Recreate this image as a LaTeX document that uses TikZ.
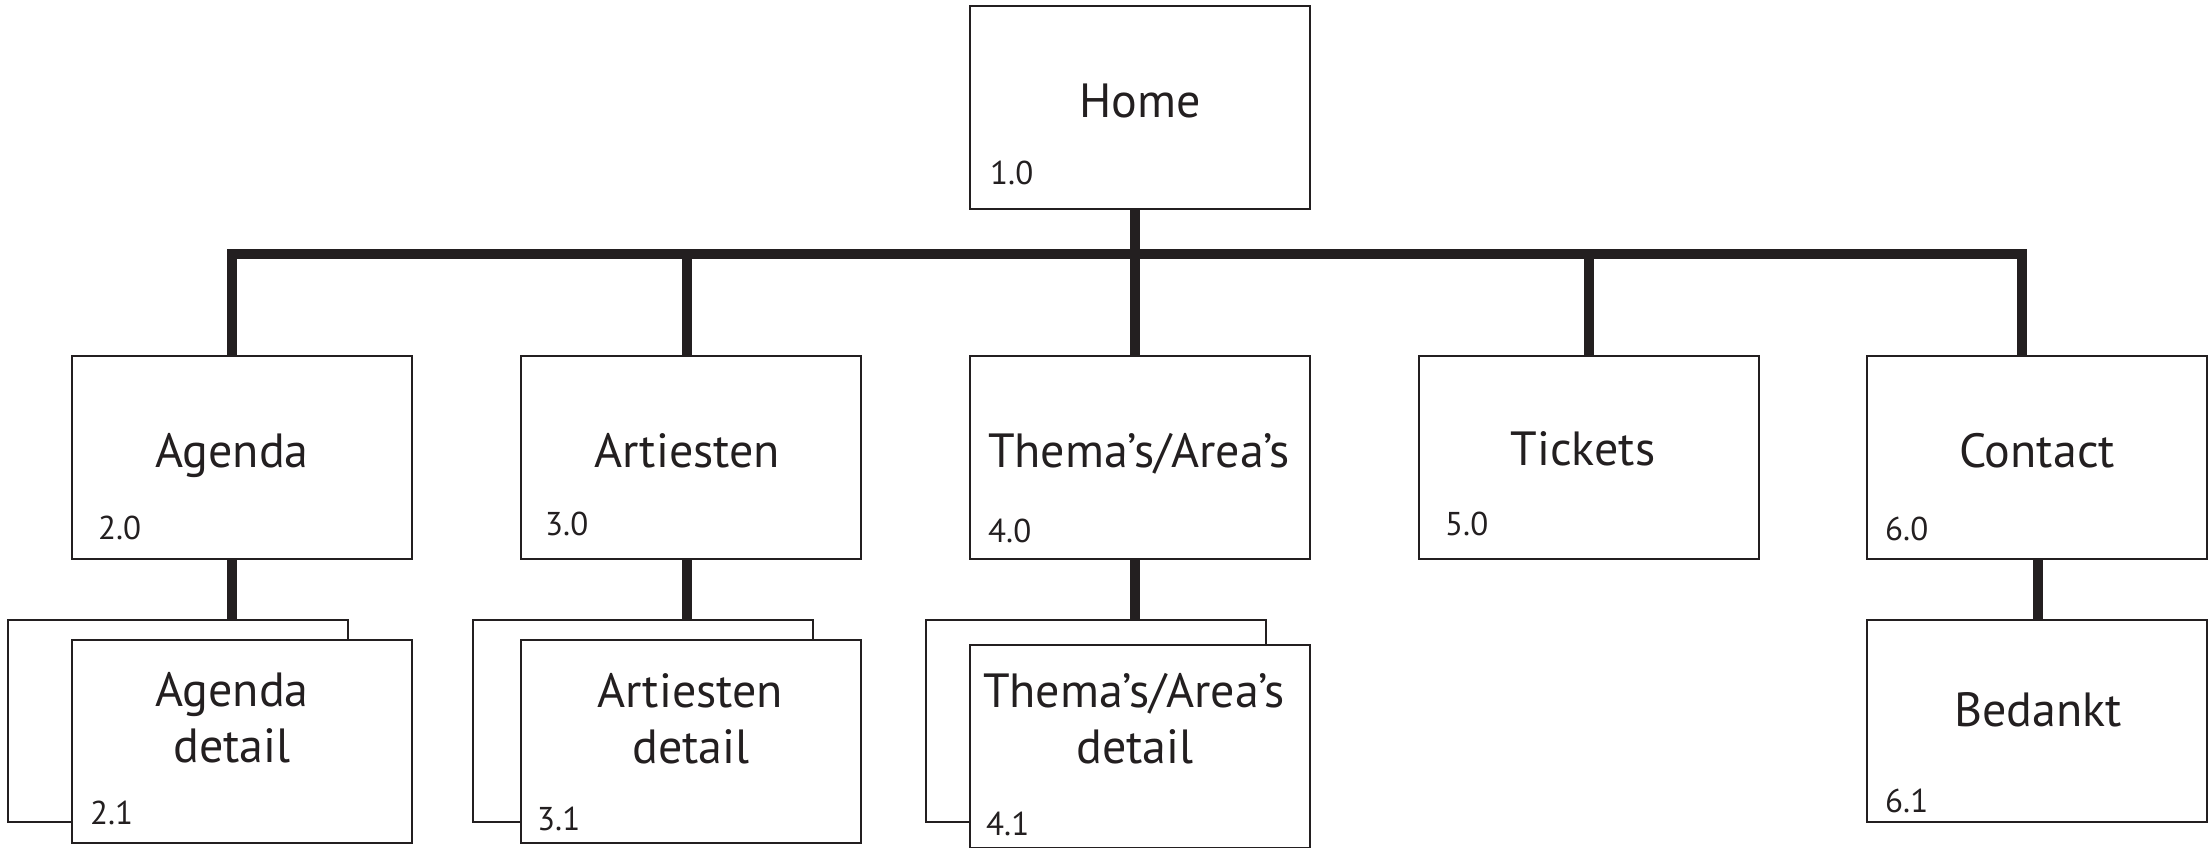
\documentclass[tikz,border=0pt]{standalone}
\usepackage{fontspec}
\setmainfont{PT Sans}
\definecolor{ink}{RGB}{35,31,32}
\tikzset{
  box/.style={draw=ink, line width=2.5pt, fill=white, rectangle, anchor=north west,
              minimum width=340pt, minimum height=203pt, inner sep=0pt, outer sep=0pt},
  backbox/.style={box, minimum height=202pt},
  stem/.style={draw=ink, line width=10pt, line join=miter, line cap=butt},
  title/.style={anchor=base, inner sep=0pt, text=ink, font=\fontsize{48}{57}\selectfont},
  num/.style={anchor=base west, inner sep=0pt, text=ink, font=\fontsize{33}{40}\selectfont}
}
\begin{document}
\begin{tikzpicture}[x=1pt,y=-1pt]
\useasboundingbox (0,0) rectangle (2209,848);
% junction coordinates on the bar
\coordinate (jA) at (232,254);
\coordinate (jR) at (687,254);
\coordinate (jT) at (1135,254);
\coordinate (jK) at (1589,254);
\coordinate (jC) at (2022,254);
\coordinate (sC) at (2038,559);
% boxes (positions)
\node[box] (home) at (970,6) {};
\node[box] (agenda) at (72,356) {};
\node[box] (artiesten) at (521,356) {};
\node[box] (thema) at (970,356) {};
\node[box] (tickets) at (1419,356) {};
\node[box] (contact) at (1867,356) {};
% stems
\draw[stem] (home.south -| jT) -- (thema.north -| jT);
\draw[stem] (agenda.north -| jA) -- (jA) -- (jC) -- (contact.north -| jC);
\draw[stem] (jR) -- (artiesten.north -| jR);
\draw[stem] (jK) -- (tickets.north -| jK);
% back boxes
\node[backbox] (agendaback) at (8,620) {};
\node[backbox] (artback) at (473,620) {};
\node[backbox] (themaback) at (926,620) {};
\draw[stem] (agenda.south -| jA) -- (agendaback.north -| jA);
\draw[stem] (artiesten.south -| jR) -- (artback.north -| jR);
\draw[stem] (thema.south -| jT) -- (themaback.north -| jT);
% front detail boxes
\node[box] (agendadet) at (72,640) {};
\node[box] (artdet) at (521,640) {};
\node[box] (themadet) at (970,645) {};
\node[backbox] (bedankt) at (1867,620) {};
\draw[stem] (contact.south -| sC) -- (bedankt.north -| sC);
% redraw top-level boxes above stems
\node[box] at (970,6) {};
\node[box] at (72,356) {};
\node[box] at (521,356) {};
\node[box] at (970,356) {};
\node[box] at (1419,356) {};
\node[box] at (1867,356) {};
% titles
\node[title] (tHome) at (1140,118) {Home};
\node[title] (tAgenda) at (232,467) {Agenda};
\node[title] (tArt) at (687,467) {Artiesten};
\node[title] (tThema) at (1139,467) {Thema’s/Area’s};
\node[title] (tTickets) at (1583,465) {Tickets};
\node[title] (tContact) at (2037,467) {Contact};
\node[title] (tAgD1) at (232,706) {Agenda};
\node[title] (tAgD2) at (232,762) {detail};
\node[title] (tArD1) at (690,707) {Artiesten};
\node[title] (tArD2) at (691,763) {detail};
\node[title] (tThD1) at (1134,707) {Thema’s/Area’s};
\node[title] (tThD2) at (1135,763) {detail};
\node[title] (tBedankt) at (2038,726) {Bedankt};
% numbers
\node[num] (n10) at (990,184) {1.0};
\node[num] (n20) at (98,539) {2.0};
\node[num] (n30) at (545,535) {3.0};
\node[num] (n40) at (988,542) {4.0};
\node[num] (n50) at (1445,535) {5.0};
\node[num] (n60) at (1885,540) {6.0};
\node[num] (n21) at (90,824) {2.1};
\node[num] (n31) at (537,830) {3.1};
\node[num] (n41) at (986,835) {4.1};
\node[num] (n61) at (1885,812) {6.1};
\end{tikzpicture}
\end{document}
